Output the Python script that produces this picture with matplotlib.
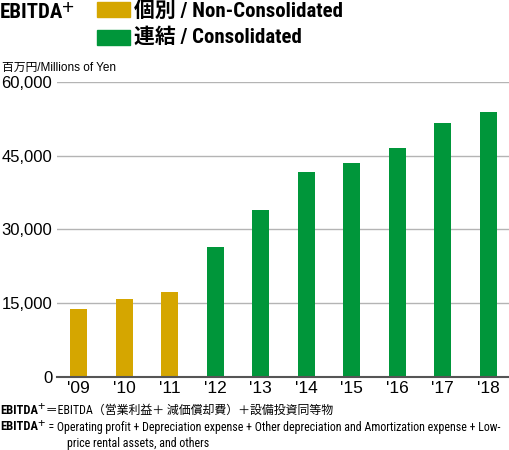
import matplotlib
matplotlib.use("Agg")
import matplotlib.pyplot as plt
from matplotlib import font_manager
from matplotlib.patches import Rectangle

# data
years = ["'09", "'10", "'11", "'12", "'13", "'14", "'15", "'16", "'17", "'18"]
values = [13800, 15900, 17200, 26500, 33900, 41600, 43500, 46500, 51600, 53900]
consolidated = [False, False, False, True, True, True, True, True, True, True]
yticks = [0, 15000, 30000, 45000, 60000]

GOLD = "#D5A600"
GREEN = "#00963A"
W, H = 510, 450

# pick a condensed face if there is one
installed = {f.name for f in font_manager.fontManager.ttflist}
cond = next((n for n in ["Roboto Condensed", "PT Sans Narrow", "Liberation Sans Narrow"]
             if n in installed), "Roboto")
NARROW = [cond, "Noto Sans CJK JP", "DejaVu Sans"]
REG = ["Liberation Sans", "Noto Sans CJK JP", "DejaVu Sans"]

fig = plt.figure(figsize=(W / 100, H / 100), dpi=100)
ax = fig.add_axes([57 / W, 1 - 377 / H, (W - 57) / W, (377 - 82) / H])
renderer = fig.canvas.get_renderer()


def px(x, y):
  # pixel (from top-left) -> figure fraction
  return x / W, 1 - y / H


def run(x, y, parts):
  # write text pieces one after another on one line, (text, dy, kwargs)
  for s, dy, kw in parts:
    t = fig.text(*px(x, y + dy), s, va="center", ha="left", **kw)
    x += t.get_window_extent(renderer).width - 1
  return x


colors = [GREEN if c else GOLD for c in consolidated]
ax.bar(range(len(years)), values, width=0.375, color=colors, zorder=3)
ax.set_xlim(-0.48, len(years) - 0.52)
ax.set_ylim(0, 60000)
ax.set_yticks(yticks)
ax.set_yticklabels([f"{v:,}" for v in yticks], family=REG, fontsize=12)
ax.set_xticks(range(len(years)))
ax.set_xticklabels(years, family=REG, fontsize=12.5)
ax.tick_params(axis="y", length=0, pad=3.5)
ax.tick_params(axis="x", length=0, pad=3)
ax.grid(axis="y", color="#b4b4b4", linewidth=1, zorder=0)
for s in ["top", "right", "left"]:
  ax.spines[s].set_visible(False)
ax.spines["bottom"].set_color("#555555")
ax.spines["bottom"].set_linewidth(1.5)
ax.spines["bottom"].set_zorder(4)

# title + legend
run(0, 13, [("EBITDA", 0, dict(family=NARROW, weight="bold", fontsize=15)),
            ("+", -4, dict(family=REG, fontsize=15))])
fig.add_artist(Rectangle(px(97, 17), 33 / W, 15 / H, color=GOLD,
                         transform=fig.transFigure))
fig.add_artist(Rectangle(px(97, 45), 33 / W, 15 / H, color=GREEN,
                         transform=fig.transFigure))
fig.text(*px(134, 11), "個別 / Non-Consolidated", family=NARROW, weight="bold",
         fontsize=15, va="center", ha="left")
fig.text(*px(134, 37), "連結 / Consolidated", family=NARROW, weight="bold",
         fontsize=15, va="center", ha="left")
fig.text(*px(2, 68), "百万円/Millions of Yen", family=REG, fontsize=8.5,
         va="center", ha="left")

# footnotes
sup = dict(family=REG, fontsize=9)
bold = dict(family=NARROW, weight="bold", fontsize=9)
note = dict(family=NARROW, fontsize=8.6)
run(0, 410, [("EBITDA", 0, bold), ("+", -3, sup),
             (" ＝EBITDA（営業利益＋ 減価償却費）＋設備投資同等物", 0, note)])
run(0, 427, [("EBITDA", 0, bold), ("+", -3, sup),
             ("  = Operating profit + Depreciation expense + Other depreciation and "
              "Amortization expense + Low-", 0, note)])
fig.text(*px(67, 443), "price rental assets, and others", va="center",
         ha="left", **note)

fig.savefig("out.png", dpi=100)
